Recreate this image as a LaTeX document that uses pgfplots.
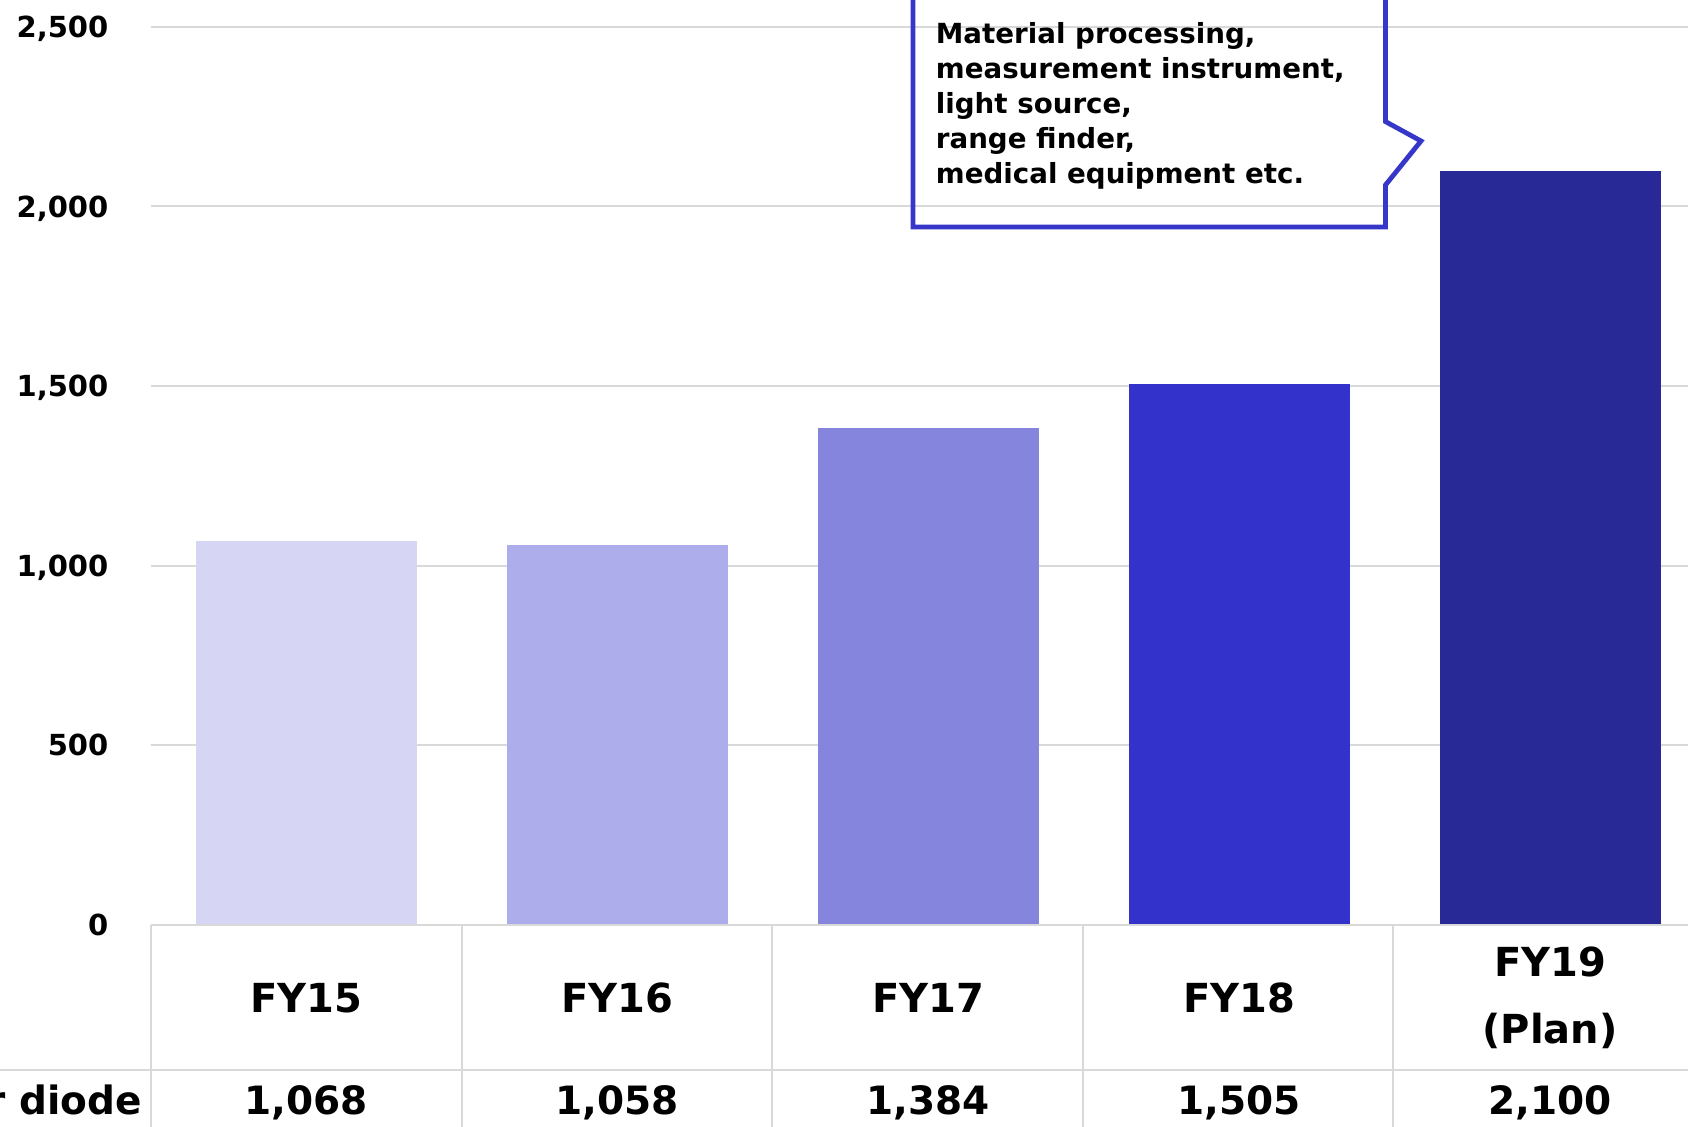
\documentclass[border=0pt]{standalone}
\usepackage{pgfplots}
\pgfplotsset{compat=1.18}
\usepackage{fontspec}
\setmainfont{DejaVu Sans}
\definecolor{c1}{HTML}{D6D6F4}
\definecolor{c2}{HTML}{ADADEB}
\definecolor{c3}{HTML}{8585DE}
\definecolor{c4}{HTML}{3333CC}
\definecolor{c5}{HTML}{282896}
\definecolor{gridc}{HTML}{D9D9D9}
\definecolor{callc}{HTML}{3636C8}
\begin{document}
\begin{tikzpicture}
\useasboundingbox (0pt,0pt) rectangle (844pt,-563.5pt);
\clip (0pt,0pt) rectangle (844pt,-563.5pt);
\begin{axis}[
  at={(75.35pt,-462.35pt)}, anchor=south west,
  scale only axis, width=777.5pt, height=448.9pt,
  xmin=-0.5, xmax=4.5, ymin=0, ymax=2500,
  axis line style={draw=none},
  major tick length=0pt,
  ymajorgrids, grid style={gridc, line width=1pt},
  ytick={0,500,1000,1500,2000,2500},
  /pgf/number format/.cd, 1000 sep={,}, assume math mode=true, /pgfplots/.cd,
  yticklabel style={font=\bfseries\fontsize{14.5}{18}\selectfont, anchor=base east, inner sep=0pt, xshift=-21pt, yshift=-5.3pt},
  xtick={0,1,2,3,4},
  xticklabels={FY15,FY16,FY17,FY18,{FY19\\(Plan)}},
  xticklabel style={font=\bfseries\fontsize{20}{33.75}\selectfont, align=center, anchor=center, inner sep=0pt, yshift=-36.65pt},
  clip=false,
]
\addplot[ybar, bar width=110.35pt, bar shift=0pt, fill=c1, draw=none] coordinates {(0,1068)};
\addplot[ybar, bar width=110.35pt, bar shift=0pt, fill=c2, draw=none] coordinates {(1,1058)};
\addplot[ybar, bar width=110.35pt, bar shift=0pt, fill=c3, draw=none] coordinates {(2,1384)};
\addplot[ybar, bar width=110.35pt, bar shift=0pt, fill=c4, draw=none] coordinates {(3,1505)};
\addplot[ybar, bar width=110.35pt, bar shift=0pt, fill=c5, draw=none] coordinates {(4,2100)};
\end{axis}
\begin{scope}[x=0.5pt,y=-0.5pt]
  % table lines
  \draw[gridc, line width=1pt] (150.7,924.7) -- (1700,924.7);
  \draw[gridc, line width=1pt] (-10,1070) -- (1700,1070);
  \foreach \xx in {150.7,461.8,771.9,1083,1393}
    \draw[gridc, line width=1pt] (\xx,924.7) -- (\xx,1140);
  % value row
  \node[anchor=base east, inner sep=0pt, font=\bfseries\fontsize{19.5}{23}\selectfont] at (142,1114.2) {Laser diode};
  \foreach \xx/\v in {306.3/{1,068},617.3/{1,058},928.3/{1,384},1239.3/{1,505},1550.3/{2,100}}
    \node[anchor=base, inner sep=0pt, font=\bfseries\fontsize{19.5}{23}\selectfont] at (\xx,1114.2) {\v};
  % callout
  \draw[callc, line width=2.4pt, line join=miter]
    (1385.5,-20) -- (1385.5,121.6) -- (1421,141) -- (1385.5,185) -- (1385.5,227) -- (913,227) -- (913,-20);
  \node[anchor=north west, align=left, inner sep=0pt, font=\bfseries\fontsize{13.85}{17.5}\selectfont] at (935.5,22)
    {Material processing,\\measurement instrument,\\light source,\\range finder,\\medical equipment etc.};
\end{scope}
\end{tikzpicture}
\end{document}
